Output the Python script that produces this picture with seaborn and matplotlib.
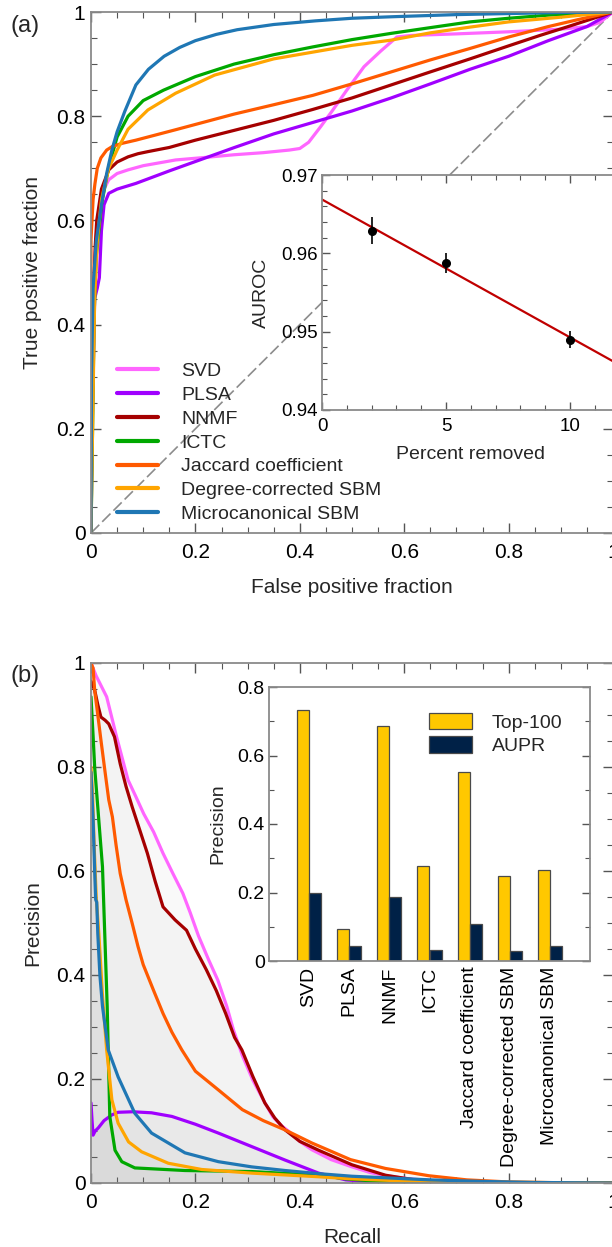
import numpy as np
import pandas as pd
import matplotlib
matplotlib.use("Agg")
import matplotlib.pyplot as plt
from matplotlib.ticker import MultipleLocator, FixedLocator, FixedFormatter
import seaborn as sns

# ---------------------------------------------------------------
# data
# ---------------------------------------------------------------
methods = ["SVD", "PLSA", "NNMF", "ICTC", "Jaccard coefficient",
           "Degree-corrected SBM", "Microcanonical SBM"]
colors = ["#FF66FF", "#A000FF", "#A50000", "#00A800", "#FF5A00", "#FFA500", "#1F77B4"]

# ROC curves (false positive fraction, true positive fraction)
roc_svd_x = [0, 0.002, 0.006, 0.012, 0.02, 0.034, 0.05, 0.071, 0.1, 0.162, 0.22, 0.274, 0.33, 0.38,
             0.40, 0.417, 0.44, 0.462, 0.49, 0.523, 0.555, 0.586, 0.613, 0.7, 0.8, 0.9, 0.95, 0.975, 1.0]
roc_svd_y = [0, 0.3, 0.5, 0.6, 0.65, 0.678, 0.69, 0.697, 0.705, 0.716, 0.721, 0.726, 0.73, 0.735,
             0.738, 0.75, 0.78, 0.81, 0.85, 0.895, 0.925, 0.952, 0.955, 0.958, 0.962, 0.967, 0.972, 0.98, 1.0]
roc_plsa_x = [0, 0.003, 0.007, 0.012, 0.016, 0.02, 0.025, 0.034, 0.05, 0.086, 0.15, 0.2, 0.275, 0.35,
              0.425, 0.5, 0.575, 0.65, 0.726, 0.8, 0.876, 0.95, 1.0]
roc_plsa_y = [0, 0.25, 0.45, 0.47, 0.49, 0.58, 0.63, 0.652, 0.66, 0.671, 0.695, 0.713, 0.74, 0.766,
              0.788, 0.81, 0.835, 0.862, 0.89, 0.915, 0.945, 0.972, 1.0]
roc_nnmf_x = [0, 0.002, 0.005, 0.008, 0.011, 0.02, 0.034, 0.05, 0.071, 0.09, 0.109, 0.15, 0.2, 0.275,
              0.35, 0.425, 0.5, 0.575, 0.65, 0.726, 0.8, 0.86, 0.914, 0.96, 1.0]
roc_nnmf_y = [0, 0.25, 0.45, 0.55, 0.6, 0.66, 0.697, 0.712, 0.722, 0.728, 0.732, 0.74, 0.754, 0.773,
              0.792, 0.813, 0.835, 0.86, 0.885, 0.91, 0.935, 0.955, 0.972, 0.987, 1.0]
roc_ictc_x = [0, 0.003, 0.006, 0.01, 0.02, 0.034, 0.05, 0.071, 0.1, 0.139, 0.2, 0.274, 0.35, 0.425,
              0.5, 0.575, 0.65, 0.726, 0.8, 0.876, 1.0]
roc_ictc_y = [0, 0.2, 0.42, 0.53, 0.63, 0.703, 0.76, 0.8, 0.83, 0.85, 0.876, 0.9, 0.918, 0.933,
              0.947, 0.959, 0.97, 0.981, 0.988, 0.994, 1.0]
roc_jacc_x = [0, 0, 0.004, 0.0075, 0.012, 0.019, 0.03, 0.041, 0.06, 0.086, 0.162, 0.274, 0.35, 0.425,
              0.5, 0.575, 0.65, 0.726, 0.8, 0.876, 0.94, 1.0]
roc_jacc_y = [0, 0.563, 0.64, 0.67, 0.70, 0.72, 0.735, 0.742, 0.748, 0.754, 0.774, 0.804, 0.822, 0.84,
              0.862, 0.885, 0.908, 0.93, 0.952, 0.972, 0.987, 1.0]
roc_dcsbm_x = [0, 0.003, 0.007, 0.012, 0.02, 0.034, 0.05, 0.071, 0.109, 0.162, 0.237, 0.35, 0.5,
               0.575, 0.65, 0.726, 0.8, 0.9, 1.0]
roc_dcsbm_y = [0, 0.2, 0.45, 0.56, 0.64, 0.70, 0.735, 0.775, 0.812, 0.844, 0.879, 0.91, 0.936,
               0.946, 0.96, 0.971, 0.981, 0.99, 1.0]
roc_micro_x = [0, 0.001, 0.004, 0.01, 0.02, 0.03, 0.04, 0.05, 0.065, 0.086, 0.11, 0.14, 0.17, 0.2,
               0.24, 0.28, 0.35, 0.43, 0.5, 0.58, 0.7, 0.8, 0.9, 1.0]
roc_micro_y = [0, 0.3, 0.47, 0.56, 0.63, 0.69, 0.735, 0.77, 0.81, 0.86, 0.89, 0.915, 0.932, 0.945,
               0.957, 0.966, 0.976, 0.983, 0.988, 0.991, 0.995, 0.997, 0.999, 1.0]

# precision-recall curves (recall, precision)
pr_svd_x = [0, 0.01, 0.02, 0.03, 0.049, 0.071, 0.085, 0.101, 0.12, 0.138, 0.157, 0.176, 0.19, 0.206,
            0.225, 0.243, 0.26, 0.273, 0.29, 0.31, 0.33, 0.348, 0.365, 0.378, 0.4, 0.423, 0.46, 0.497,
            0.535, 0.572, 0.61, 0.647, 0.72, 0.8, 0.9, 1.0]
pr_svd_y = [1.0, 0.975, 0.955, 0.935, 0.858, 0.775, 0.745, 0.71, 0.675, 0.634, 0.595, 0.557, 0.52, 0.475,
            0.43, 0.39, 0.34, 0.294, 0.245, 0.198, 0.16, 0.128, 0.11, 0.1, 0.08, 0.064, 0.045, 0.032,
            0.02, 0.013, 0.008, 0.005, 0.002, 0.001, 0.0, 0.0]
pr_plsa_x = [0, 0.002, 0.004, 0.008, 0.014, 0.025, 0.04, 0.052, 0.08, 0.116, 0.155, 0.2, 0.244, 0.308,
             0.372, 0.436, 0.488, 0.53, 0.6, 1.0]
pr_plsa_y = [0.154, 0.12, 0.092, 0.1, 0.106, 0.12, 0.131, 0.136, 0.137, 0.135, 0.128, 0.113, 0.096, 0.07,
             0.044, 0.019, 0.006, 0.003, 0.001, 0.0]
pr_nnmf_x = [0, 0.007, 0.013, 0.019, 0.027, 0.034, 0.045, 0.056, 0.067, 0.079, 0.093, 0.108, 0.123, 0.138,
             0.161, 0.183, 0.2, 0.221, 0.24, 0.258, 0.275, 0.289, 0.31, 0.333, 0.352, 0.372, 0.4, 0.436,
             0.5, 0.564, 0.62, 0.7, 0.8, 1.0]
pr_nnmf_y = [0.965, 0.948, 0.92, 0.896, 0.89, 0.883, 0.858, 0.806, 0.763, 0.723, 0.68, 0.634, 0.58, 0.531,
             0.506, 0.486, 0.45, 0.41, 0.37, 0.326, 0.28, 0.256, 0.205, 0.154, 0.125, 0.102, 0.08, 0.063,
             0.035, 0.015, 0.006, 0.002, 0.0005, 0.0]
pr_ictc_x = [0, 0.004, 0.007, 0.015, 0.022, 0.028, 0.031, 0.033, 0.036, 0.046, 0.059, 0.084, 0.18, 0.308,
             0.436, 0.488, 0.55, 0.65, 1.0]
pr_ictc_y = [0.935, 0.86, 0.8, 0.697, 0.608, 0.43, 0.34, 0.256, 0.128, 0.063, 0.041, 0.029, 0.024, 0.022,
             0.015, 0.008, 0.003, 0.001, 0.0]
pr_jacc_x = [0, 0.004, 0.007, 0.013, 0.019, 0.027, 0.034, 0.041, 0.048, 0.056, 0.067, 0.079, 0.09, 0.1,
             0.12, 0.138, 0.155, 0.174, 0.2, 0.244, 0.29, 0.33, 0.372, 0.423, 0.497, 0.564, 0.647, 0.72,
             0.8, 0.9, 1.0]
pr_jacc_y = [1.0, 0.99, 0.948, 0.90, 0.852, 0.79, 0.737, 0.704, 0.65, 0.595, 0.545, 0.499, 0.455, 0.42,
             0.37, 0.326, 0.29, 0.256, 0.215, 0.179, 0.141, 0.12, 0.102, 0.077, 0.045, 0.028, 0.014, 0.006,
             0.002, 0.0005, 0.0]
pr_dcsbm_x = [0, 0.003, 0.006, 0.01, 0.015, 0.022, 0.03, 0.04, 0.052, 0.072, 0.097, 0.148, 0.212, 0.308,
              0.436, 0.5, 0.572, 0.7, 1.0]
pr_dcsbm_y = [0.8, 0.75, 0.65, 0.55, 0.48, 0.36, 0.256, 0.16, 0.115, 0.079, 0.06, 0.038, 0.026, 0.019,
              0.012, 0.008, 0.005, 0.002, 0.0]
pr_micro_x = [0, 0.004, 0.007, 0.009, 0.011, 0.013, 0.017, 0.022, 0.033, 0.052, 0.084, 0.116, 0.18, 0.244,
              0.308, 0.372, 0.436, 0.5, 0.564, 0.65, 0.75, 0.85, 1.0]
pr_micro_y = [0.79, 0.70, 0.6, 0.545, 0.54, 0.48, 0.40, 0.34, 0.256, 0.204, 0.134, 0.096, 0.058, 0.041,
              0.031, 0.024, 0.018, 0.013, 0.01, 0.006, 0.003, 0.001, 0.0]

# inset (a): AUROC vs percent of edges removed
pct_removed = [2, 5, 10]
auroc_mean = [0.9629, 0.9588, 0.9490]
auroc_err = [0.0017, 0.0013, 0.0011]

# inset (b): precision bars
top100 = [0.733, 0.094, 0.685, 0.276, 0.551, 0.248, 0.265]
aupr = [0.199, 0.043, 0.186, 0.032, 0.109, 0.030, 0.043]
bar_metrics = ["Top-100", "AUPR"]
bar_colors = ["#FFC800", "#002147"]

main_ticks = [0, 0.2, 0.4, 0.6, 0.8, 1.0]
main_ticklabels = ["0", "0.2", "0.4", "0.6", "0.8", "1"]
inset_a_yticks = [0.94, 0.95, 0.96, 0.97]
inset_b_yticklabels = ["0", "0.2", "0.4", "0.6", "0.8"]

roc_x = [roc_svd_x, roc_plsa_x, roc_nnmf_x, roc_ictc_x, roc_jacc_x, roc_dcsbm_x, roc_micro_x]
roc_y = [roc_svd_y, roc_plsa_y, roc_nnmf_y, roc_ictc_y, roc_jacc_y, roc_dcsbm_y, roc_micro_y]
pr_x = [pr_svd_x, pr_plsa_x, pr_nnmf_x, pr_ictc_x, pr_jacc_x, pr_dcsbm_x, pr_micro_x]
pr_y = [pr_svd_y, pr_plsa_y, pr_nnmf_y, pr_ictc_y, pr_jacc_y, pr_dcsbm_y, pr_micro_y]

roc_df = pd.concat([pd.DataFrame({"x": xs, "y": ys, "method": m})
                    for m, xs, ys in zip(methods, roc_x, roc_y)], ignore_index=True)
pr_df = pd.concat([pd.DataFrame({"x": xs, "y": ys, "method": m})
                   for m, xs, ys in zip(methods, pr_x, pr_y)], ignore_index=True)
bar_df = pd.DataFrame({"method": methods * 2,
                       "metric": [bar_metrics[0]] * 7 + [bar_metrics[1]] * 7,
                       "value": top100 + aupr})

# ---------------------------------------------------------------
# styling
# ---------------------------------------------------------------
sns.set_theme(style="ticks")
plt.rcParams["font.family"] = ["Liberation Sans", "DejaVu Sans"]
plt.rcParams["axes.unicode_minus"] = False

W, H = 612, 1247
fig = plt.figure(figsize=(W / 100, H / 100), dpi=100)


def add_ax(left, top, right, bottom):
    # axes from pixel coordinates
    return fig.add_axes([left / W, 1 - bottom / H, (right - left) / W, (bottom - top) / H])


def style(ax, major, minor, labelsize, xpad=7, ypad=4):
    ax.tick_params(which="both", direction="in", top=True, right=True,
                   color="#555555", labelcolor="black", labelsize=labelsize)
    ax.tick_params(which="major", length=major, width=1.0)
    ax.tick_params(which="minor", length=minor, width=0.8)
    ax.tick_params(axis="x", pad=xpad)
    ax.tick_params(axis="y", pad=ypad)
    for sp in ax.spines.values():
        sp.set_color("#8a8a8a")
        sp.set_linewidth(1.3)


def main_ticks_setup(ax):
    ax.set_xlim(0, 1)
    ax.set_ylim(0, 1)
    ax.xaxis.set_major_locator(FixedLocator(main_ticks))
    ax.xaxis.set_major_formatter(FixedFormatter(main_ticklabels))
    ax.yaxis.set_major_locator(FixedLocator(main_ticks))
    ax.yaxis.set_major_formatter(FixedFormatter(main_ticklabels))
    ax.xaxis.set_minor_locator(MultipleLocator(0.05))
    ax.yaxis.set_minor_locator(MultipleLocator(0.05))
    style(ax, 7, 4, 15)


# ---------------------------------------------------------------
# (a) ROC
# ---------------------------------------------------------------
ax_a = add_ax(91, 12, 613, 533)
ax_a.plot([0, 1], [0, 1], color="#8c8c8c", lw=1.2, ls=(0, (7, 2.5)), zorder=1)
sns.lineplot(data=roc_df, x="x", y="y", hue="method", hue_order=methods, palette=colors,
             sort=False, estimator=None, units="method", linewidth=2.3, ax=ax_a, legend=True)
main_ticks_setup(ax_a)
ax_a.set_xlabel("False positive fraction", fontsize=15, labelpad=12)
ax_a.set_ylabel("True positive fraction", fontsize=15, labelpad=10)
leg = ax_a.legend(loc="lower left", bbox_to_anchor=(0.0235, -0.007), frameon=False, fontsize=14,
                  handlelength=2.1, handletextpad=1.2, labelspacing=0.32, borderpad=0.2)
for h in leg.get_lines():
    h.set_linewidth(3)

# inset (a)
ax_ia = add_ax(322, 175, 619.6, 410)
ax_ia.set_facecolor("white")
ax_ia.set_xlim(0, 12)
sns.regplot(x=pct_removed, y=auroc_mean, ax=ax_ia, ci=None, scatter=False, truncate=False,
            color="#C00000", line_kws={"linewidth": 1.6})
ax_ia.errorbar(pct_removed, auroc_mean, yerr=auroc_err, fmt="o", color="black", ms=5.5,
               elinewidth=1.2, capsize=0, zorder=5)
ax_ia.set_xlim(0, 12)
ax_ia.set_ylim(0.94, 0.97)
ax_ia.xaxis.set_major_locator(FixedLocator([0, 5, 10]))
ax_ia.xaxis.set_minor_locator(MultipleLocator(1))
ax_ia.yaxis.set_major_locator(FixedLocator(inset_a_yticks))
ax_ia.yaxis.set_major_formatter(FixedFormatter([f"{v:.2f}" for v in inset_a_yticks]))
ax_ia.yaxis.set_minor_locator(MultipleLocator(0.002))
style(ax_ia, 6, 3.5, 13.5, xpad=6, ypad=3)
ax_ia.set_xlabel("Percent removed", fontsize=14, labelpad=8)
ax_ia.set_ylabel("AUROC", fontsize=14, labelpad=8)

# ---------------------------------------------------------------
# (b) precision-recall
# ---------------------------------------------------------------
ax_b = add_ax(91, 663, 613, 1183)
for m, xs, ys in zip(methods, pr_x, pr_y):
    ax_b.fill_between(xs, 0, ys, color="0.5", alpha=0.045, lw=0, zorder=1)
sns.lineplot(data=pr_df, x="x", y="y", hue="method", hue_order=methods, palette=colors,
             sort=False, estimator=None, units="method", linewidth=2.3, ax=ax_b, legend=False)
main_ticks_setup(ax_b)
ax_b.set_xlabel("Recall", fontsize=15, labelpad=12)
ax_b.set_ylabel("Precision", fontsize=15, labelpad=10)

# inset (b)
ax_ib = add_ax(269, 687, 590, 961)
ax_ib.set_facecolor("white")
sns.barplot(data=bar_df, x="method", y="value", hue="metric", hue_order=bar_metrics,
            palette=bar_colors, width=0.6, gap=0, edgecolor="#4a4a4a", linewidth=0.9,
            saturation=1, ax=ax_ib)
ax_ib.set_xlim(-1, 7)
ax_ib.set_ylim(0, 0.8)
ax_ib.yaxis.set_major_locator(FixedLocator([0, 0.2, 0.4, 0.6, 0.8]))
ax_ib.yaxis.set_major_formatter(FixedFormatter(inset_b_yticklabels))
ax_ib.yaxis.set_minor_locator(MultipleLocator(0.1))
style(ax_ib, 6, 3.5, 14, xpad=4, ypad=3)
ax_ib.tick_params(axis="x", which="both", length=0, top=False, rotation=90, labelsize=14)
ax_ib.set_xlabel("")
ax_ib.set_ylabel("Precision", fontsize=14, labelpad=8)
ax_ib.legend(loc="upper left", bbox_to_anchor=(0.4575, 0.9555), frameon=False, fontsize=14,
             handlelength=2.2, handleheight=0.9, handletextpad=1.0, labelspacing=0.25, borderpad=0.2)

fig.text(10 / W, 1 - 26 / H, "(a)", fontsize=17, va="center")
fig.text(10 / W, 1 - 676 / H, "(b)", fontsize=17, va="center")

fig.savefig("out.png", dpi=100)
